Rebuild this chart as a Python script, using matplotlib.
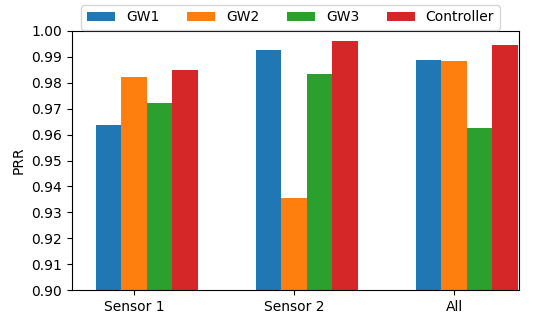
import numpy as np
import matplotlib
matplotlib.use('Agg')
import matplotlib.pyplot as plt

# PRR per sensor group
groups = ['Sensor 1', 'Sensor 2', 'All']
gw1 = [0.9637, 0.9927, 0.9888]
gw2 = [0.9822, 0.9355, 0.9884]
gw3 = [0.9722, 0.9834, 0.9625]
controller = [0.9849, 0.9961, 0.9946]
series_names = ['GW1', 'GW2', 'GW3', 'Controller']

fig, ax = plt.subplots(figsize=(5.42, 3.2), dpi=100)

x = np.arange(len(groups))
w = 0.16
for i, (vals, name) in enumerate(zip([gw1, gw2, gw3, controller], series_names)):
    ax.bar(x + (i - 1) * w, vals, w, label=name)

ax.set_ylim(0.90, 1.00)
ax.set_yticks(np.arange(0.90, 1.001, 0.01))
ax.set_xlim(-0.3875, 2.406)
ax.set_xticks(x)
ax.set_xticklabels(groups)
ax.set_ylabel('PRR')

# legend sits above the axes, slightly left of centre
ax.legend(loc='upper center', bbox_to_anchor=(0.489, 1.128), ncol=4)

fig.subplots_adjust(left=72 / 542, right=519 / 542, top=1 - 31 / 320, bottom=1 - 290 / 320)
fig.savefig('out.png', dpi=100)
